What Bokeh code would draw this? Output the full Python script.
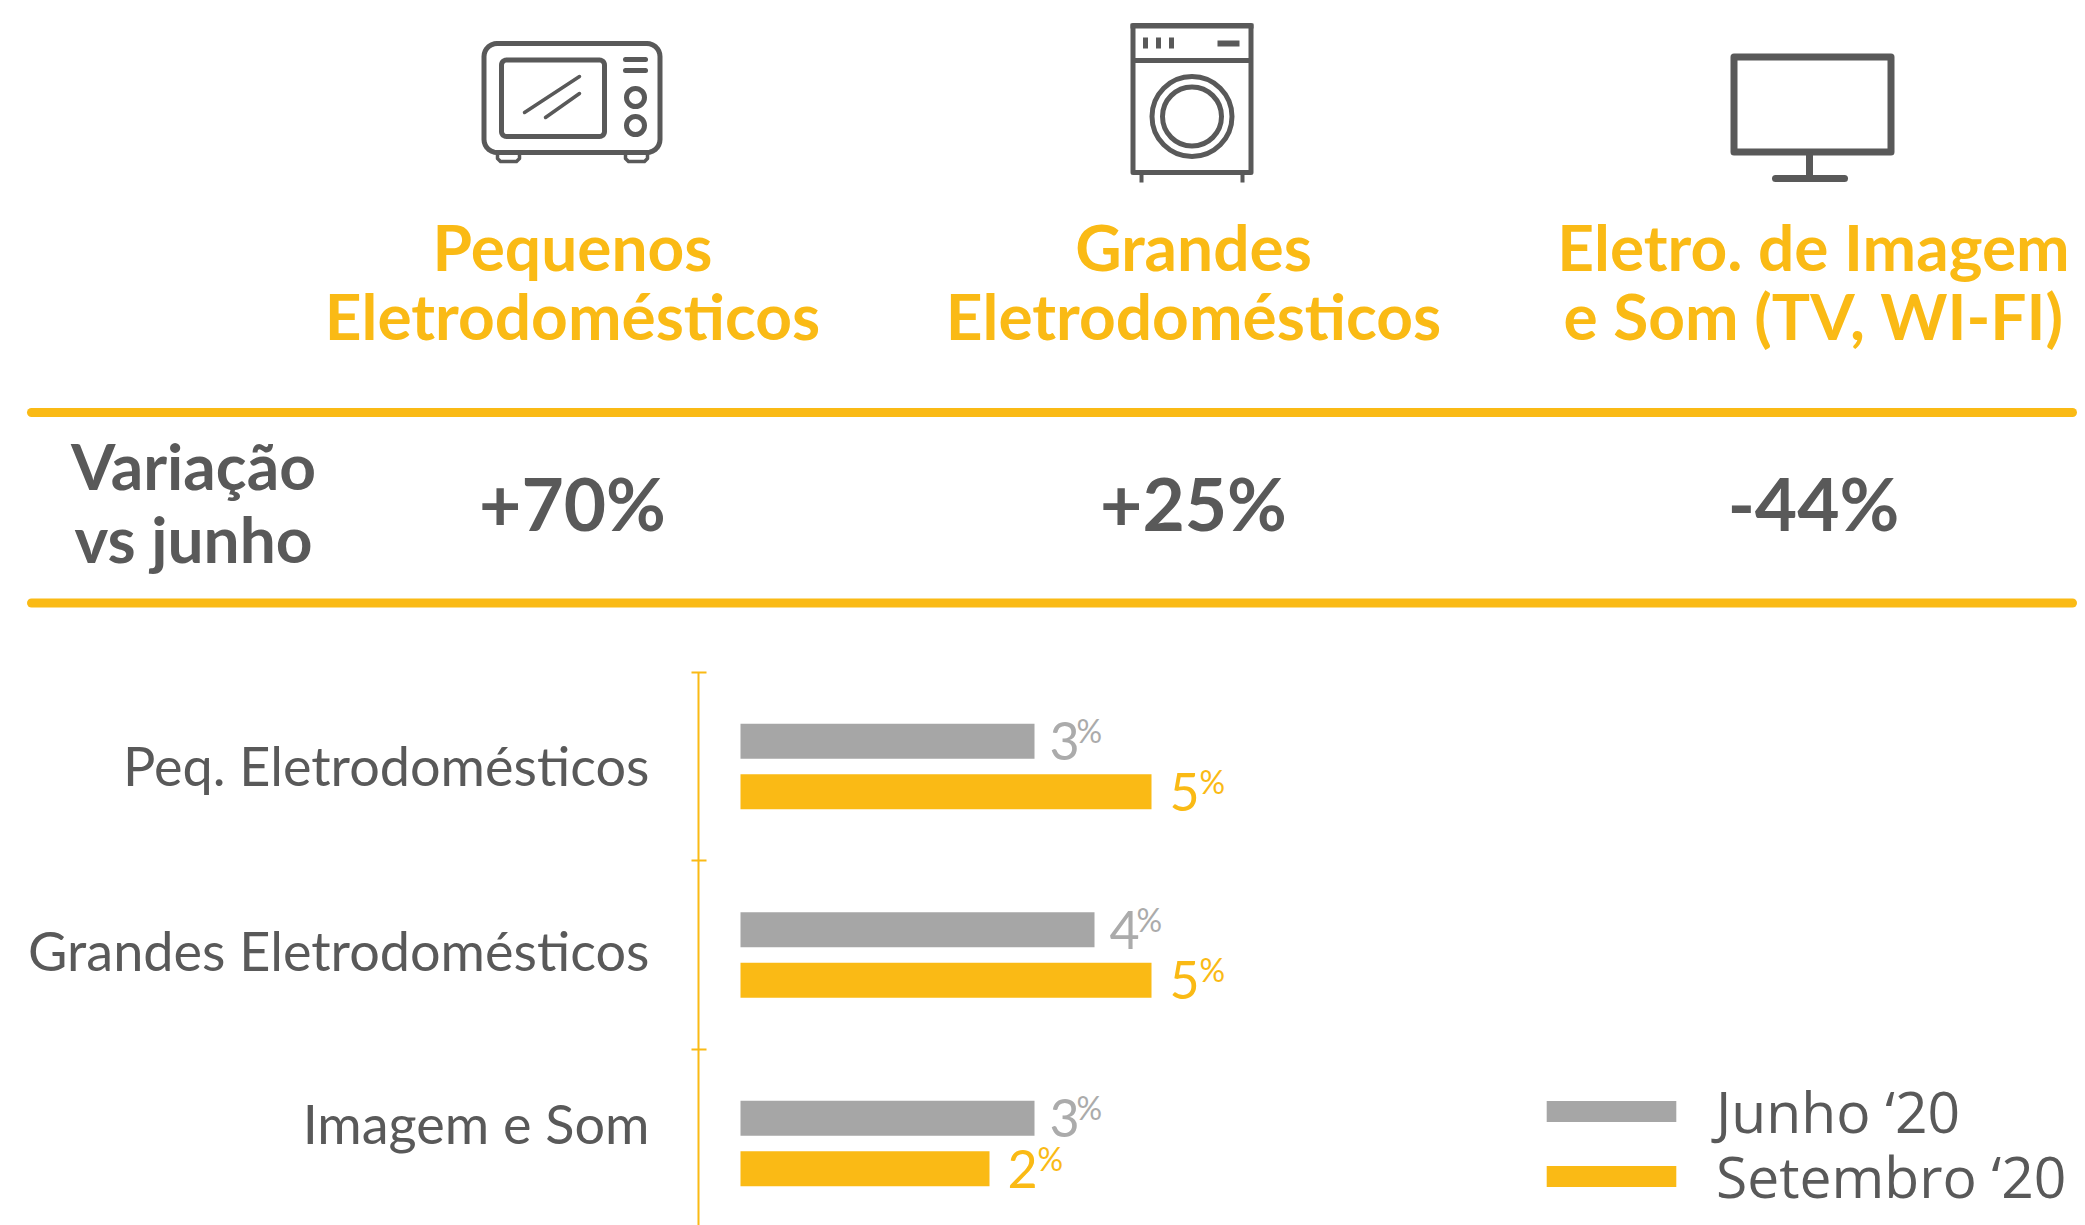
from bokeh.plotting import figure
from bokeh.layouts import column, row
from bokeh.embed import file_html
from bokeh.resources import INLINE
from bokeh.core.properties import value
from bokeh.models import (ColumnDataSource, Range1d, LinearAxis, FixedTicker, Legend, LegendItem)
import numpy as np

# ---------- data ----------
titles = ["Pequenos\nEletrodomésticos", "Grandes\nEletrodomésticos", "Eletro. de Imagem\ne Som (TV, WI-FI)"]
variation = ["+70%", "+25%", "-44%"]
row_title = ["Variação", "vs junho"]
categories = ["Peq. Eletrodomésticos", "Grandes Eletrodomésticos", "Imagem e Som"]
cat_pos = [1, 2, 3]
label_pos = [0.995, 1.975, 2.895]
june_bar = [2.94, 3.54, 2.94]
sept_bar = [4.11, 4.11, 2.49]
june_label = ["3", "4", "3"]
sept_label = ["5", "5", "2"]
series_names = ["Junho ‘20", "Setembro ‘20"]

GRAY = "#A6A6A6"
YEL = "#FABA15"
DARK = "#595959"
FONT = "Lato"
W, H = 2085, 1225
TOP_H = 640

# ---------- top panel (page pixel coordinates) ----------
top = figure(width=W, height=TOP_H, x_range=Range1d(0, W), y_range=Range1d(TOP_H, 0),
             output_backend="svg", toolbar_location=None, min_border=0, outline_line_color=None)
top.axis.visible = False
top.grid.visible = False


def rrect(x0, y0, x1, y1, r, n=8):
    t = np.linspace(0, np.pi / 2, n)
    xs, ys = [], []
    for cx, cy, a in [(x1 - r, y0 + r, -np.pi / 2), (x1 - r, y1 - r, 0), (x0 + r, y1 - r, np.pi / 2), (x0 + r, y0 + r, np.pi)]:
        xs += list(cx + r * np.cos(t + a))
        ys += list(cy + r * np.sin(t + a))
    return xs + xs[:1], ys + ys[:1]


def oline(xs, ys, w=5, cap="round"):
    top.line(xs, ys, line_color=DARK, line_width=w, line_cap=cap, line_join="round")


def ell(cx, cy, r, w=5):
    top.circle(x=[cx], y=[cy], radius=r, fill_color=None, line_color=DARK, line_width=w)


# microwave
oline(*rrect(483.5, 43, 659.5, 152, 13))
oline(*rrect(501, 59.5, 604, 136, 5))
oline([625, 645], [59, 59]); oline([625, 645], [70, 70])
ell(635, 97, 9); ell(635, 125, 9)
oline([524, 579], [112, 76], 3.5); oline([545, 579], [117, 93], 3.5)
oline([497, 497, 500, 516, 519, 519], [153, 158, 161, 161, 158, 153], 3.5)
oline([625, 625, 628, 644, 647, 647], [153, 158, 161, 161, 158, 153], 3.5)
# washing machine
oline([1132.5, 1250.5, 1250.5, 1132.5, 1132.5], [25, 25, 172, 172, 25], 5)
top.quad(left=[1130], right=[1253], top=[23], bottom=[28], fill_color=DARK, line_color=None)
oline([1132, 1251], [60, 60], 5, "butt")
for bx in (1145, 1158, 1171):
    oline([bx, bx], [37, 48], 5, "butt")
top.quad(left=[1217], right=[1239], top=[40], bottom=[46], fill_color=DARK, line_color=None)
ell(1191.5, 116, 40, 5); ell(1191.5, 116, 29.5, 5)
oline([1141, 1141], [172, 182], 4, "butt"); oline([1242, 1242], [172, 182], 4, "butt")
# monitor
oline([1733.5, 1890.5, 1890.5, 1733.5, 1733.5], [56.5, 56.5, 151.5, 151.5, 56.5], 7)
oline([1809, 1809], [152, 178], 7, "butt")
oline([1775, 1844], [178, 178], 7)

# headers
col_x = [572, 1193, 1813]
for cx, t in zip(col_x, titles):
    l1, l2 = t.split("\n")
    top.text(x=[cx, cx], y=[246, 315], text=[l1, l2], text_align="center", text_baseline="middle",
             text_color=YEL, text_font=value(FONT), text_font_style="bold", text_font_size="64px")
top.text(x=[193, 193], y=[465, 538], text=row_title, text_align="center", text_baseline="middle",
         text_color=DARK, text_font=value(FONT), text_font_style="bold", text_font_size="64px")
top.text(x=col_x, y=[502] * 3, text=variation, text_align="center", text_baseline="middle",
         text_color=DARK, text_font=value(FONT), text_font_style="bold", text_font_size="73px")
for ry in (412, 602.5):
    top.line([31, 2072], [ry, ry], line_color=YEL, line_width=9, line_cap="round")

# ---------- bottom chart ----------
BOT_H = H - TOP_H
c_of = lambda px: 1 + (px - 766) / 188.5
v_of = lambda px: (px - 740) / 100
bot = figure(width=W, height=BOT_H, output_backend="svg", toolbar_location=None,
             x_range=Range1d(v_of(698), v_of(W)), y_range=Range1d(c_of(H), c_of(TOP_H)),
             min_border=0, min_border_left=698, outline_line_color=None, y_axis_location=None, x_axis_location=None)
bot.grid.visible = False

cp = np.array(cat_pos, dtype=float)
OFF, BH = 0.134, 0.186
src = ColumnDataSource(dict(yj=cp - OFF, ys=cp + OFF, j=june_bar, s=sept_bar, jl=june_label, sl=sept_label))
rj = bot.hbar(y="yj", right="j", left=0, height=BH, source=src, fill_color=GRAY, line_color=None)
rs = bot.hbar(y="ys", right="s", left=0, height=BH, source=src, fill_color=YEL, line_color=None)

for yc, xc, lab, color, dx, pct_dx in [("yj", "j", "jl", "#ABABAB", 15, 42), ("ys", "s", "sl", YEL, 18, 48)]:
    src.data[yc + "_n"] = list(np.array(src.data[yc]) + 0.0)
    src.data[yc + "_p"] = list(np.array(src.data[yc]) - 0.055)
    src.data[yc + "_pct"] = ["%"] * 3
    bot.text(x=xc, y=yc + "_n", text=lab, source=src, x_offset=dx, text_color=color, text_align="left",
             text_baseline="alphabetic", text_font=value(FONT), text_font_size="52px")
    bot.text(x=xc, y=yc + "_p", text=yc + "_pct", source=src, x_offset=pct_dx, text_color=color, text_align="left",
             text_baseline="alphabetic", text_font=value(FONT), text_font_size="32px")

ax = LinearAxis(ticker=FixedTicker(ticks=label_pos, minor_ticks=[0.5, 1.5, 2.5]),
                major_label_overrides=dict(zip(label_pos, categories)),
                axis_line_color=YEL, axis_line_width=2, major_tick_line_color=None,
                major_tick_in=0, major_tick_out=0, minor_tick_line_color=YEL, minor_tick_line_width=2,
                minor_tick_in=8, minor_tick_out=7, major_label_standoff=42,
                major_label_text_color=DARK, major_label_text_font=FONT, major_label_text_font_size="54px",
                bounds=(0.5, c_of(H)))
bot.add_layout(ax, "left")

for name, rend, ly in [(series_names[0], rj, 75), (series_names[1], rs, 10)]:
    leg = Legend(items=[LegendItem(label=name, renderers=[rend])],
                 location=(832, ly), orientation="vertical", background_fill_alpha=0, border_line_color=None,
                 padding=0, margin=0, spacing=0, glyph_width=162, glyph_height=26, label_standoff=24, label_height=56,
                 label_text_font="Open Sans", label_text_font_size="57px", label_text_line_height=1.0, label_text_color=DARK)
    bot.add_layout(leg, "center")

page = column(row(top), row(bot), spacing=0)
open("out.html", "w").write(file_html(page, INLINE))
